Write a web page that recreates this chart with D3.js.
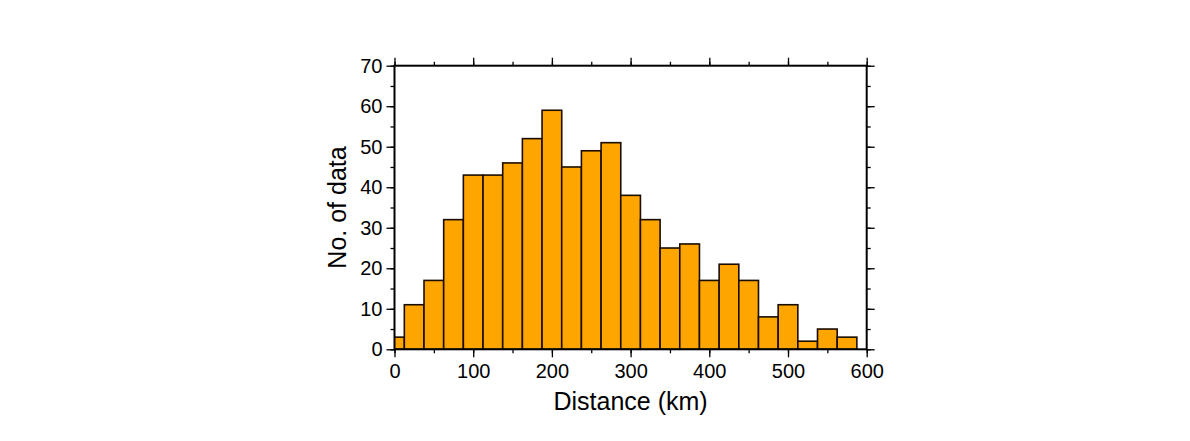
<!DOCTYPE html>
<html><head><meta charset="utf-8">
<script src="https://cdn.jsdelivr.net/npm/d3@7"></script>
<style>html,body{margin:0;padding:0;background:#fff;}</style>
</head><body>
<svg id="chart" width="1190" height="441"></svg>
<script>
const binCenters = [0,25,50,75,100,125,150,175,200,225,250,275,300,325,350,375,400,425,450,475,500,525,550,575];
const counts = [3,11,17,32,43,43,46,52,59,45,49,51,38,32,25,26,17,21,17,8,11,2,5,3];
const binWidth = 25;
const xTicks = [0,100,200,300,400,500,600];
const yTicks = [0,10,20,30,40,50,60,70];
const xLabel = "Distance (km)";
const yLabel = "No. of data";

const L = 394.5, R = 866.7, T = 65.7, B = 349.3;
const svg = d3.select("#chart");
const x = d3.scaleLinear().domain([0,600]).range([L,R]);
const y = d3.scaleLinear().domain([0,70]).range([B,T]);
const font = "'Liberation Sans', Arial, Helvetica, sans-serif";

svg.append("clipPath").attr("id","clip").append("rect")
  .attr("x",L).attr("y",T).attr("width",R-L).attr("height",B-T);

svg.append("g").attr("clip-path","url(#clip)")
  .selectAll("rect").data(binCenters).join("rect")
  .attr("x", d => x(d - binWidth/2))
  .attr("width", d => x(d + binWidth/2) - x(d - binWidth/2))
  .attr("y", (d,i) => y(counts[i]))
  .attr("height", (d,i) => y(0) - y(counts[i]))
  .attr("fill","#FFA500").attr("stroke","#1a0d00").attr("stroke-width",1.6);

const minorX = d3.range(0,601,50), minorY = d3.range(0,71,5);
function axisG(axis, tf){ return svg.append("g").attr("transform",tf).call(axis); }
function style(g, labels){
  g.select(".domain").remove();
  g.selectAll("line").attr("stroke","#000").attr("stroke-width",1.3);
  g.selectAll("text").attr("font-family",font).attr("font-size",20).attr("fill","#000");
  if(!labels) g.selectAll("text").remove();
}
// minor ticks
style(axisG(d3.axisBottom(x).tickValues(minorX).tickSize(4).tickFormat(""), `translate(0,${B})`), false);
style(axisG(d3.axisTop(x).tickValues(minorX).tickSize(4).tickFormat(""), `translate(0,${T})`), false);
style(axisG(d3.axisLeft(y).tickValues(minorY).tickSize(4).tickFormat(""), `translate(${L},0)`), false);
style(axisG(d3.axisRight(y).tickValues(minorY).tickSize(4).tickFormat(""), `translate(${R},0)`), false);
// major ticks
const xb = axisG(d3.axisBottom(x).tickValues(xTicks).tickSize(8).tickPadding(4).tickFormat(d3.format("d")), `translate(0,${B})`);
style(xb, true);
xb.selectAll("text").attr("dy","0.85em");
style(axisG(d3.axisTop(x).tickValues(xTicks).tickSize(8).tickFormat(""), `translate(0,${T})`), false);
const yl = axisG(d3.axisLeft(y).tickValues(yTicks).tickSize(8).tickPadding(4).tickFormat(d3.format("d")), `translate(${L},0)`);
style(yl, true);
style(axisG(d3.axisRight(y).tickValues(yTicks).tickSize(8).tickFormat(""), `translate(${R},0)`), false);

// frame
svg.append("rect").attr("x",L).attr("y",T).attr("width",R-L).attr("height",B-T)
  .attr("fill","none").attr("stroke","#000").attr("stroke-width",2);

svg.append("text").attr("x",(L+R)/2).attr("y",410).attr("text-anchor","middle")
  .attr("font-family",font).attr("font-size",25).attr("fill","#000").text(xLabel);
svg.append("text").attr("transform",`translate(346,${(T+B)/2}) rotate(-90)`).attr("text-anchor","middle")
  .attr("font-family",font).attr("font-size",25).attr("fill","#000").text(yLabel);
</script>
</body></html>
